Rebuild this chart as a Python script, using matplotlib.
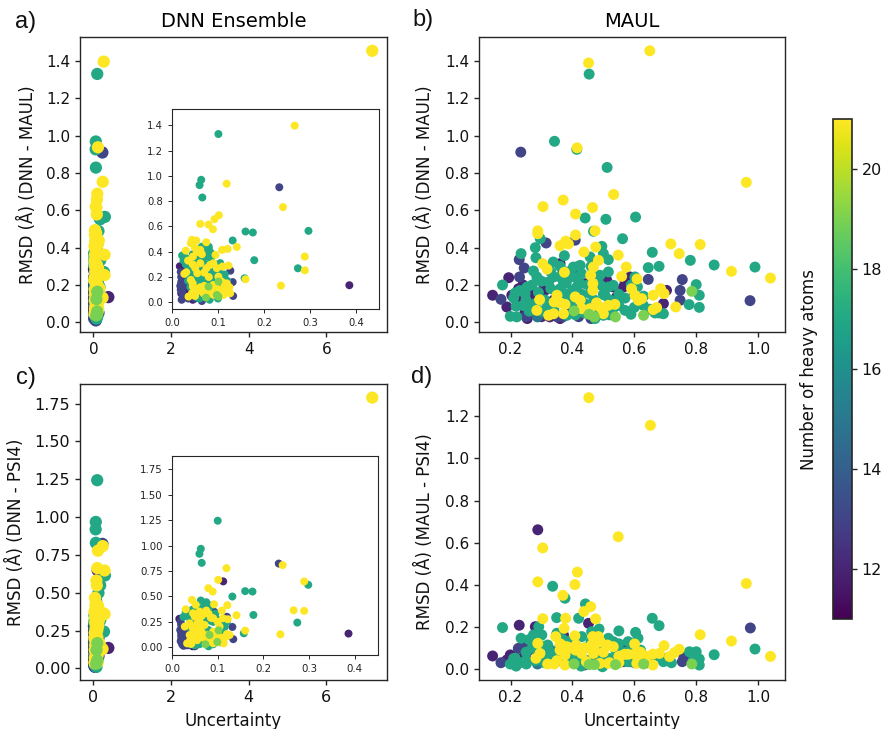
import numpy as np
import matplotlib
matplotlib.use("Agg")
import matplotlib.pyplot as plt

# (uncertainty, rmsd) pairs by number of heavy atoms
A_12 = [(.386,.135),(.017,.285),(.023,.28),(.02,.07),(.045,.02),(.03,.1),(.022,.16),(.07,.03)]
A_13 = [(.2335,.91),(.127,.25),(.132,.16),(.133,.05),(.02,.2),(.018,.13),(.022,.08),(.021,.02),(.03,.17),
        (.019,.24),(.02,.16),(.024,.05),(.019,.1),(.025,.19),(.028,.13),(.035,.03),(.04,.05),(.05,.03),(.065,.01)]
A_17 = [(.101,1.331),(.0636,.969),(.06,.927),(.066,.829),(.297,.565),(.16,.56),(.176,.552),(.132,.489),
        (.179,.333),(.274,.269),(.158,.19),(.022,.37),(.03,.35),(.04,.3),(.05,.33),(.06,.38),(.07,.41),
        (.08,.42),(.085,.35),(.075,.3),(.06,.26),(.05,.24),(.04,.27),(.03,.3),(.07,.25),(.09,.22),(.1,.26),
        (.11,.2),(.12,.17),(.065,.2),(.05,.16),(.08,.17),(.09,.12),(.06,.13),(.07,.1),(.055,.04),(.06,.03),
        (.082,.02),(.1,.08),(.11,.14),(.045,.2),(.035,.22),(.075,.36),(.055,.31),(.045,.38),(.095,.3),
        (.105,.31),(.065,.44),(.08,.44),
        (.025,.33),(.035,.31),(.045,.34),(.055,.36),(.065,.33),(.075,.39),(.085,.39),(.065,.41),(.05,.28),
        (.06,.29),(.07,.27),(.08,.25),(.085,.28),(.095,.24),(.105,.23),(.115,.22),(.04,.22),(.05,.2),(.06,.17),
        (.07,.15),(.08,.2),(.085,.15),(.095,.17),(.105,.12),(.115,.11),(.05,.08),(.06,.07),(.07,.05),(.08,.05),
        (.09,.06),(.1,.03),(.045,.06),(.04,.12),(.035,.17)]
A_21 = [(7.18,1.455),(.267,1.397),(.119,.938),(.2415,.753),(.102,.689),(.0925,.658),(.0615,.62),(.0795,.615),
        (.089,.578),(.0434,.494),(.0528,.488),(.041,.467),(.0745,.475),(.03,.409),(.0615,.415),(.054,.396),
        (.141,.438),(.121,.422),(.109,.415),(.0947,.375),(.289,.362),(.0455,.362),(.09,.309),(.083,.296),
        (.0615,.309),(.123,.29),(.11,.283),(.0976,.27),(.289,.253),(.0506,.27),(.07,.235),(.031,.238),
        (.0268,.225),(.16,.182),(.237,.132),(.041,.177),(.0455,.124),(.054,.085),(.036,.045),(.0615,.119),
        (.076,.098),(.09,.137),(.101,.203),(.108,.164),(.119,.15),(.1265,.071),(.112,.058),(.083,.071),
        (.105,.098),(.0687,.071),(.0434,.071),
        (.05,.43),(.065,.38),(.035,.33),(.045,.3),(.055,.23),(.075,.27),(.08,.2),(.045,.15),(.05,.11),(.07,.13),
        (.085,.1),(.095,.13),(.115,.13),(.12,.1),(.125,.12),(.1,.075),(.09,.06),(.05,.05),(.075,.09)]
A_19 = [(.101,.164),(.0795,.124),(.0976,.058),(.074,.037),(.101,.045)]

B_12 = [(.142,.145),(.194,.239),(.204,.145),(.188,.082),(.254,.02),(.226,.18),(.28,.154),(.306,.207),
        (.36,.314),(.414,.296),(.36,.02),(.43,.055),(.511,.225),(.565,.189),(.586,.243),(.704,.171),
        (.694,.1),(.543,.136),(.444,.207),(.327,.029),(.247,.055),(.462,.0375),
        (.22,.12),(.24,.2),(.26,.14),(.28,.08),(.3,.03),(.31,.17),(.33,.04),(.34,.12),(.37,.27),(.39,.06),
        (.42,.27),(.47,.05),(.5,.23),(.53,.19),(.57,.22),(.6,.15)]
B_13 = [(.233,.912),(.974,.116),(.755,.229),(.748,.171),(.748,.118),(.645,.23),(.228,.336),(.244,.291),
        (.229,.243),(.169,.123),(.315,.425),(.409,.44),
        (.25,.03),(.27,.05),(.31,.04),(.35,.03),(.37,.03),(.42,.03),(.46,.02)]
B_15 = [(.287,.029)]
B_17 = [(.454,1.33),(.342,.97),(.414,.927),(.512,.83),(.441,.559),(.508,.552),(.604,.564),(.468,.488),
        (.562,.448),(.495,.407),(.658,.375),(.781,.332),(.858,.307),(.99,.296),(.68,.3),(.645,.293),
        (.296,.448),(.28,.4),(.234,.368),(.282,.346),(.174,.2),(.338,.323),(.374,.357),(.274,.275),
        (.285,.243),(.323,.216),(.215,.157),(.253,.189),(.247,.154),(.218,.086),(.199,.032),(.22,.029),
        (.263,.091),(.371,.207),(.36,.243),(.403,.296),(.425,.305),(.414,.189),(.393,.243),(.516,.336),
        (.516,.27),(.489,.252),(.532,.198),(.516,.189),(.602,.243),(.8,.202),(.81,.145),(.777,.095),
        (.81,.08),(.694,.046),(.667,.05),(.589,.043),(.57,.064),(.554,.127),(.505,.145),(.457,.154),
        (.382,.0375),(.478,.0375),(.5,.0375),(.473,.02),(.629,.091),(.425,.207),(.457,.35),(.5,.368),(.339,.243),
        (.21,.13),(.23,.17),(.25,.12),(.27,.2),(.29,.16),(.3,.22),(.31,.12),(.33,.18),(.33,.27),(.35,.14),(.36,.18),
        (.36,.3),(.38,.27),(.38,.21),(.38,.15),(.39,.1),(.4,.17),(.41,.24),(.41,.08),(.43,.26),(.43,.15),(.44,.1),
        (.45,.2),(.46,.3),(.47,.26),(.47,.12),(.48,.06),(.49,.2),(.5,.15),(.52,.12),(.53,.07),(.55,.15),(.55,.09),
        (.57,.13),(.59,.2),(.61,.19),(.63,.14),(.3,.06),(.32,.09),(.34,.07),(.26,.06),(.28,.1),(.24,.09),(.41,.04),
        (.44,.05),(.52,.04),(.6,.08),(.65,.07),(.68,.05)]
B_21 = [(.65,1.455),(.452,1.39),(.415,.935),(.962,.75),(.533,.685),(.37,.655),(.305,.62),(.465,.615),(.41,.58),
        (.473,.49),(.288,.49),(.288,.475),(.41,.468),(.718,.42),(.813,.417),(.745,.368),(.914,.273),(1.04,.237),
        (.548,.36),(.437,.377),(.475,.403),(.36,.41),(.378,.435),(.387,.42),(.304,.314),(.318,.285),(.374,.268),
        (.484,.332),(.468,.296),(.459,.252),(.466,.207),(.466,.171),(.574,.296),(.559,.246),(.609,.232),(.591,.18),
        (.602,.145),(.613,.118),(.624,.127),(.661,.145),(.685,.18),(.696,.154),(.734,.082),(.672,.079),(.661,.068),
        (.294,.121),(.285,.064),(.323,.0375),(.339,.046),(.371,.046),(.341,.109),(.36,.104),(.376,.096),(.35,.145),
        (.409,.136),(.425,.118),(.43,.073),(.457,.073),(.478,.104),(.489,.082),(.5,.046),(.516,.091),(.537,.096)]
B_19 = [(.786,.166),(.63,.0375),(.539,.029),(.454,.043),(.471,.029),(.405,.061)]

C_12 = [(.386,.135),(.016,.28),(.112,.648),(.02,.07),(.03,.02),(.045,.01),(.032,.19)]
C_13 = [(.2335,.823),(.132,.2),(.134,.08),(.12,.3),(.02,.22),(.018,.17),(.02,.11),(.022,.03),(.025,.015),
        (.092,.35),(.03,.16),
        (.019,.25),(.02,.14),(.024,.08),(.019,.06),(.026,.2),(.03,.12),(.035,.02),(.05,.01)]
C_17 = [(.1,1.244),(.063,.968),(.06,.919),(.065,.83),(.298,.614),(.16,.552),(.176,.548),(.132,.499),(.178,.318),
        (.274,.243),(.157,.138),(.063,.46),(.075,.443),(.03,.35),(.045,.37),(.055,.31),(.065,.29),(.08,.3),
        (.095,.33),(.115,.2),(.09,.25),(.07,.21),(.055,.18),(.045,.13),(.08,.17),(.1,.14),(.11,.08),(.06,.03),
        (.05,.02),(.08,.01),(.07,.4),(.06,.38),(.04,.27),(.05,.25),(.12,.25),(.11,.27),
        (.025,.3),(.035,.32),(.05,.34),(.06,.33),(.07,.35),(.08,.37),(.085,.41),(.075,.3),(.085,.26),(.1,.27),
        (.105,.21),(.11,.17),(.06,.27),(.07,.26),(.05,.21),(.04,.19),(.06,.15),(.07,.14),(.085,.12),(.095,.09),
        (.105,.05),(.05,.09),(.06,.07),(.07,.06),(.08,.04),(.09,.03),(.04,.07),(.04,.03)]
C_21 = [(7.18,1.79),(.242,.808),(.289,.647),(.119,.778),(.101,.663),(.0795,.581),(.089,.548),(.0437,.466),(.052,.417),
        (.092,.423),(.121,.414),(.109,.361),(.141,.315),(.266,.364),(.289,.358),(.03,.374),(.046,.335),(.0605,.351),
        (.075,.361),(.09,.286),(.1115,.286),(.122,.276),(.16,.164),(.237,.128),(.0386,.236),(.028,.204),(.0714,.22),
        (.0605,.204),(.0496,.154),(.0386,.121),(.033,.039),(.042,.033),(.0605,.105),(.0787,.121),(.09,.154),(.104,.204),
        (.119,.105),(.126,.121),(.113,.039),(.097,.072),(.0787,.056),
        (.05,.3),(.065,.31),(.07,.33),(.08,.33),(.085,.29),(.1,.25),(.055,.23),(.06,.26),(.045,.19),(.05,.12),(.065,.15),
        (.055,.07),(.07,.09),(.085,.09),(.095,.11),(.105,.1),(.11,.09),(.12,.13),(.1,.05),(.09,.04),(.04,.07)]
C_19 = [(.102,.167),(.099,.053),(.073,.03),(.082,.121)]

D_12 = [(.142,.062),(.188,.043),(.199,.067),(.228,.208),(.28,.201),(.288,.661),(.452,.217),(.349,.162),(.247,.067),
        (.567,.098),(.704,.051),(.371,.162),(.425,.035),(.327,.035),
        (.2,.03),(.22,.05),(.25,.05),(.29,.07),(.36,.04),(.44,.02),(.51,.03),(.6,.04)]
D_13 = [(.975,.195),(.755,.035),(.767,.051),(.169,.03),(.225,.098),(.241,.114),(.565,.035),(.586,.035),
        (.24,.1),(.26,.09),(.33,.05),(.35,.08),(.41,.03),(.47,.05),(.55,.05),(.64,.03),(.76,.06)]
D_15 = [(.287,.024),(.329,.09)]
D_17 = [(.174,.197),(.336,.393),(.376,.336),(.442,.309),(.349,.244),(.42,.241),(.658,.241),(.68,.206),(.55,.181),
        (.604,.174),(.612,.146),(.486,.19),(.8,.082),(.778,.082),(.858,.068),(.99,.095),(.81,.048),(.81,.019),
        (.694,.035),(.291,.201),(.274,.162),(.301,.162),(.234,.146),(.215,.051),(.218,.014),(.199,.024),(.251,.024),
        (.251,.043),(.32,.114),(.323,.059),(.382,.122),(.43,.154),(.462,.177),(.516,.146),(.532,.13),(.497,.011),
        (.428,.014),(.503,.122),(.594,.106),(.479,.082),(.393,.059),(.578,.035),
        (.21,.05),(.23,.03),(.25,.08),(.27,.1),(.28,.04),(.3,.11),(.31,.03),(.33,.08),(.34,.03),(.35,.05),(.36,.11),
        (.38,.06),(.39,.13),(.41,.08),(.42,.05),(.44,.1),(.45,.04),(.47,.11),(.49,.06),(.5,.1),(.52,.05),(.54,.09),
        (.55,.03),(.57,.08),(.59,.05),(.6,.03),(.62,.09),(.65,.05),(.68,.06),(.72,.03),(.79,.04),(.26,.14),(.35,.17),
        (.37,.14),(.46,.13),(.55,.12),(.58,.13)]
D_21 = [(.453,1.288),(.652,1.157),(.548,.628),(.304,.575),(.288,.414),(.962,.406),(.416,.46),(.408,.401),(.369,.35),
        (.459,.296),(.437,.273),(.475,.238),(.304,.239),(.378,.241),(.373,.193),(.813,.163),(.914,.133),(1.04,.06),
        (.696,.111),(.745,.094),(.73,.078),(.714,.059),(.681,.074),(.66,.071),(.66,.019),(.601,.119),(.624,.054),
        (.608,.027),(.569,.07),(.554,.062),(.532,.106),(.513,.114),(.516,.027),(.489,.027),(.484,.154),(.466,.154),
        (.462,.114),(.468,.074),(.408,.158),(.412,.114),(.43,.074),(.346,.154),(.36,.09),(.382,.106),(.376,.067),
        (.288,.122),(.295,.074),(.282,.051),(.32,.024),(.341,.024),(.376,.019),(.445,.035),
        (.37,.11),(.39,.1),(.41,.09),(.44,.1),(.47,.1),(.49,.13),(.5,.08),(.36,.12),(.55,.06),(.58,.07),(.6,.07),
        (.62,.08),(.64,.06),(.35,.04),(.52,.03),(.55,.03)]
D_19 = [(.786,.024),(.63,.024),(.539,.021),(.471,.021),(.454,.021),(.405,.024)]

TITLES = ["DNN Ensemble", "MAUL"]
LETTERS = ["a)", "b)", "c)", "d)"]
YLABELS = ["RMSD (Å) (DNN - MAUL)", "RMSD (Å) (DNN - MAUL)", "RMSD (Å) (DNN - PSI4)", "RMSD (Å) (MAUL - PSI4)"]
XLABEL = "Uncertainty"
CBAR_LABEL = "Number of heavy atoms"
CBAR_TICKS = [12, 14, 16, 18, 20]
TICKS_A = [0, .2, .4, .6, .8, 1.0, 1.2, 1.4]
TICKS_C = [0, .25, .5, .75, 1.0, 1.25, 1.5, 1.75]
TICKS_D = [0, .2, .4, .6, .8, 1.0, 1.2]
X_WIDE = [0, 2, 4, 6]
X_NARROW = [.2, .4, .6, .8, 1.0]
X_INSET = [0, .1, .2, .3, .4]

W, H = 886, 729
fig = plt.figure(figsize=(W / 100, H / 100), dpi=100)
cmap, vmin, vmax = "viridis", 11, 21
EDGE = "#262626"


def box(x0, y0, x1, y1):
    return [x0 / W, 1 - y1 / H, (x1 - x0) / W, (y1 - y0) / H]


def merged(*groups):
    xs, ys, ns = [], [], []
    for n, pts in groups:
        for x, y in pts:
            xs.append(x); ys.append(y); ns.append(n)
    return xs, ys, ns


def scatter(ax, data, s):
    return ax.scatter(data[0], data[1], c=data[2], s=s, cmap=cmap, vmin=vmin, vmax=vmax, linewidths=0)


def style(ax, lw=1.0):
    for sp in ax.spines.values():
        sp.set_linewidth(lw)
        sp.set_edgecolor(EDGE)


data_a = merged((12, A_12), (13, A_13), (17, A_17), (21, A_21), (19, A_19))
data_b = merged((12, B_12), (13, B_13), (15, B_15), (17, B_17), (21, B_21), (19, B_19))
data_c = merged((12, C_12), (13, C_13), (17, C_17), (21, C_21), (19, C_19))
data_d = merged((12, D_12), (13, D_13), (15, D_15), (17, D_17), (21, D_21), (19, D_19))

ax_a = fig.add_axes(box(80, 37, 387, 332))
ax_b = fig.add_axes(box(479, 37, 785, 332))
ax_c = fig.add_axes(box(80, 384, 387, 680))
ax_d = fig.add_axes(box(479, 384, 785, 680))

sc = scatter(ax_a, data_a, 78)
scatter(ax_b, data_b, 62)
scatter(ax_c, data_c, 78)
scatter(ax_d, data_d, 62)

for ax, xlim, ylim, xt, yt, ylab, lx, fs in [
    (ax_a, (-.343, 7.56), (-.052, 1.529), X_WIDE, TICKS_A, YLABELS[0], -.141, 11),
    (ax_b, (.098, 1.087), (-.052, 1.529), X_NARROW, TICKS_A, YLABELS[1], -.148, 11),
    (ax_c, (-.343, 7.56), (-.077, 1.88), X_WIDE, TICKS_C, YLABELS[2], -.179, 11.5),
    (ax_d, (.098, 1.087), (-.052, 1.353), X_NARROW, TICKS_D, YLABELS[3], -.148, 11),
]:
    ax.set_xlim(xlim); ax.set_ylim(ylim)
    ax.set_xticks(xt); ax.set_yticks(yt)
    ax.tick_params(labelsize=fs, color=EDGE, labelcolor="#111111", width=1.0)
    ax.set_ylabel(ylab, fontsize=12, color="#111111")
    ax.yaxis.set_label_coords(lx, .5)
    style(ax)

ax_a.set_yticklabels(["0.0", "0.2", "0.4", "0.6", "0.8", "1.0", "1.2", "1.4"])
ax_b.set_yticklabels(["0.0", "0.2", "0.4", "0.6", "0.8", "1.0", "1.2", "1.4"])
ax_c.set_yticklabels(["0.00", "0.25", "0.50", "0.75", "1.00", "1.25", "1.50", "1.75"])
ax_d.set_yticklabels(["0.0", "0.2", "0.4", "0.6", "0.8", "1.0", "1.2"])

for ax in (ax_c, ax_d):
    ax.set_xlabel(XLABEL, fontsize=12, color="#111111", va="center")
    ax.xaxis.set_label_coords(.5, -.139)

ax_a.set_title(TITLES[0], fontsize=14, pad=7)
ax_b.set_title(TITLES[1], fontsize=14, pad=7)

for (px, py), t in zip([(15, 22), (412, 20), (16, 378), (411, 377)], LETTERS):
    fig.text(px / W, 1 - py / H, t, fontsize=17, family="Liberation Sans", va="center", ha="left", color="#111111")

# Insets
in_a = fig.add_axes(box(172, 109, 379, 309))
scatter(in_a, data_a, 33)
in_a.set_xlim(0, .4505); in_a.set_ylim(-.053, 1.529)
in_a.set_xticks(X_INSET); in_a.set_yticks(TICKS_A)
in_a.set_yticklabels(["0.0", "0.2", "0.4", "0.6", "0.8", "1.0", "1.2", "1.4"])
in_a.set_xticklabels(["0.0", "0.1", "0.2", "0.3", "0.4"])
in_a.tick_params(labelsize=7.2, length=3, width=.7, color=EDGE, labelcolor="#222222")
style(in_a, .8)

in_c = fig.add_axes(box(172, 456, 378, 655))
scatter(in_c, data_c, 33)
in_c.set_xlim(0, .4505); in_c.set_ylim(-.0755, 1.88)
in_c.set_xticks(X_INSET); in_c.set_yticks(TICKS_C)
in_c.set_yticklabels(["0.00", "0.25", "0.50", "0.75", "1.00", "1.25", "1.50", "1.75"])
in_c.set_xticklabels(["0.0", "0.1", "0.2", "0.3", "0.4"])
in_c.tick_params(labelsize=7.4, length=3, width=.7, color=EDGE, labelcolor="#222222")
style(in_c, .8)

# Colour bar
cax = fig.add_axes(box(833, 119, 852, 619))
cb = fig.colorbar(sc, cax=cax, ticks=CBAR_TICKS)
cb.ax.tick_params(labelsize=11.5, width=1.0, color=EDGE, labelcolor="#111111")
cb.outline.set_linewidth(1.2)
cb.outline.set_edgecolor(EDGE)
cb.ax.yaxis.set_label_position("left")
cb.set_label(CBAR_LABEL, fontsize=12, color="#111111")
cb.ax.yaxis.set_label_coords((817.5 - 833) / 19, .5)

fig.savefig("out.png", dpi=100)
